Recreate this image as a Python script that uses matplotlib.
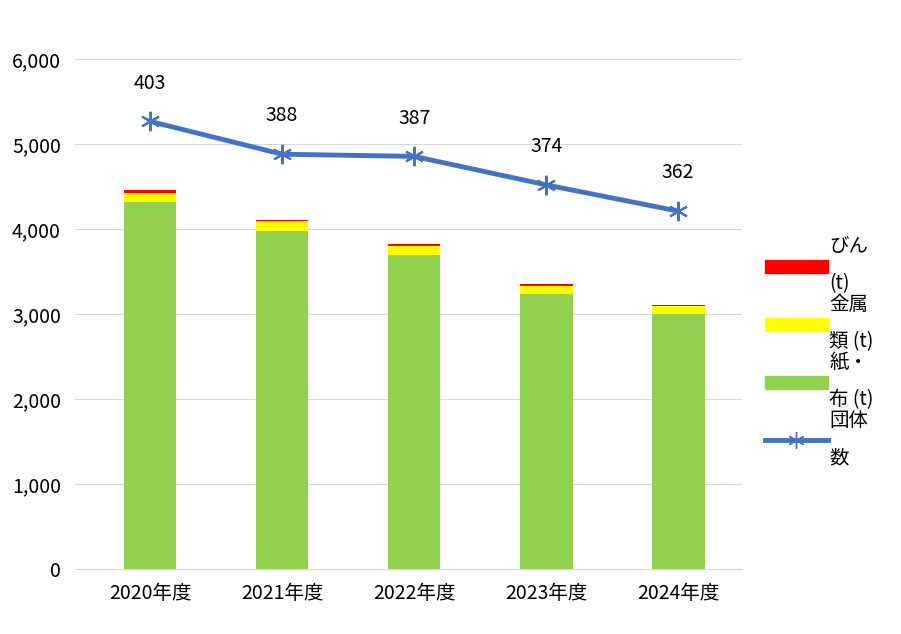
import matplotlib
matplotlib.use("Agg")
import matplotlib.pyplot as plt
from matplotlib.lines import Line2D
from matplotlib.patches import Patch

plt.rcParams['font.family'] = ['Noto Sans CJK JP']

years = ["2020年度", "2021年度", "2022年度", "2023年度", "2024年度"]
paper = [4320, 3980, 3700, 3240, 3000]
metal = [110, 120, 100, 90, 90]
bottle = [30, 10, 20, 20, 20]
groups = [403, 388, 387, 374, 362]

fig = plt.figure(figsize=(9.01, 6.34), dpi=100)
ax = fig.add_axes([0.083, 0.102, 0.74, 0.805])
x = range(len(years))
ax.bar(x, paper, width=0.4, color="#92D050", zorder=2)
ax.bar(x, metal, width=0.4, bottom=paper, color="#FFFF00", zorder=2)
b2 = [p + m for p, m in zip(paper, metal)]
ax.bar(x, bottle, width=0.4, bottom=b2, color="#FF0000", zorder=2)
ax.set_ylim(0, 6000)
ax.set_xlim(-0.57, 4.48)
ax.set_yticks(range(0, 6001, 1000))
ax.set_yticklabels([f"{v:,}" for v in range(0, 6001, 1000)], fontsize=14)
ax.set_xticks(list(x))
ax.set_xticklabels(years, fontsize=14)
ax.grid(axis="y", color="#D9D9D9", zorder=0)
for s in ["top", "right", "left"]:
    ax.spines[s].set_visible(False)
ax.spines["bottom"].set_color("#D9D9D9")
ax.tick_params(length=0, pad=10)

ax2 = ax.twinx()
ax2.plot(x, groups, color="#4472C4", lw=3.5, marker=(6, 2, 0), ms=14, mew=1.5, mec="#4472C4")
ax2.set_ylim(198.4, 431.5)
ax2.axis("off")
for i, g in zip(x, groups):
    ax2.annotate(str(g), (i, g), xytext=(0, 20), textcoords="offset points",
                 ha="center", va="bottom", fontsize=14)

handles = [Patch(color="#FF0000"), Patch(color="#FFFF00"), Patch(color="#92D050"),
           Line2D([], [], color="#4472C4", lw=3.5, marker=(6, 2, 0), ms=12)]
labels = ["びん\n(t)", "金属\n類 (t)", "紙・\n布 (t)", "団体\n数"]
leg = fig.legend(handles, labels, loc="upper left", bbox_to_anchor=(0.83, 0.655),
           frameon=False, fontsize=14, handlelength=3.2, handleheight=0.7,
           labelspacing=0.0, handletextpad=0.1)
for t in leg.get_texts():
    t.set_linespacing(2.0)
fig.savefig("out.png", dpi=100)
